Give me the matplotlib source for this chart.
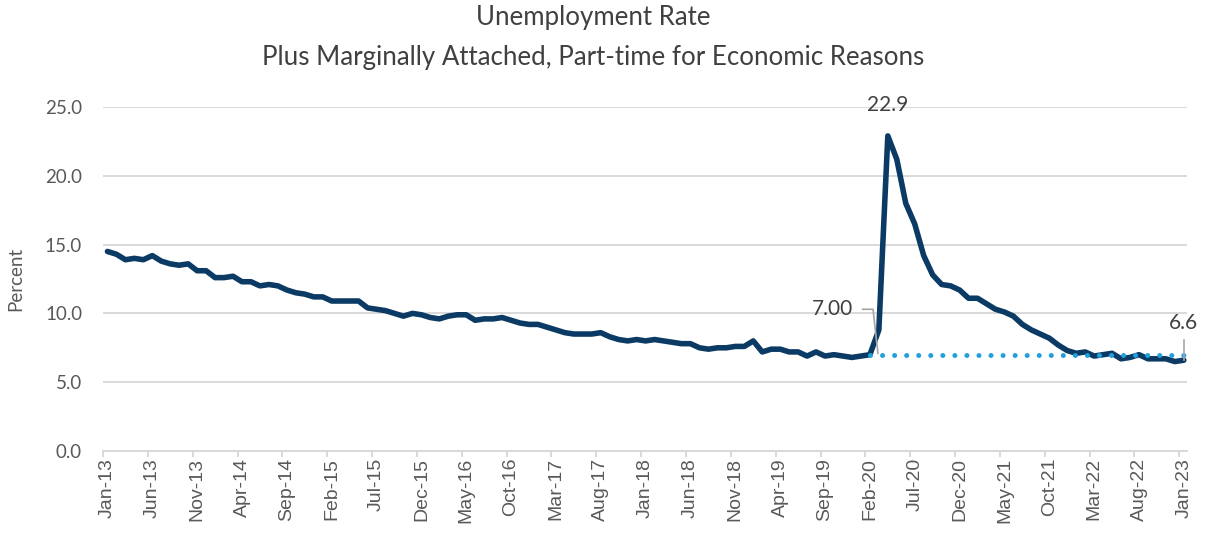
import matplotlib
matplotlib.use("Agg")
import matplotlib.pyplot as plt
import numpy as np

# Monthly U-6 rate, Jan 2013 - Jan 2023 (percent)
u6_2013 = [14.5, 14.3, 13.9, 14.0, 13.9, 14.2, 13.8, 13.6, 13.5, 13.6, 13.1, 13.1]
u6_2014 = [12.6, 12.6, 12.7, 12.3, 12.3, 12.0, 12.1, 12.0, 11.7, 11.5, 11.4, 11.2]
u6_2015 = [11.2, 10.9, 10.9, 10.9, 10.9, 10.4, 10.3, 10.2, 10.0, 9.8, 10.0, 9.9]
u6_2016 = [9.7, 9.6, 9.8, 9.9, 9.9, 9.5, 9.6, 9.6, 9.7, 9.5, 9.3, 9.2]
u6_2017 = [9.2, 9.0, 8.8, 8.6, 8.5, 8.5, 8.5, 8.6, 8.3, 8.1, 8.0, 8.1]
u6_2018 = [8.0, 8.1, 8.0, 7.9, 7.8, 7.8, 7.5, 7.4, 7.5, 7.5, 7.6, 7.6]
u6_2019 = [8.0, 7.2, 7.4, 7.4, 7.2, 7.2, 6.9, 7.2, 6.9, 7.0, 6.9, 6.8]
u6_2020 = [6.9, 7.0, 8.8, 22.9, 21.2, 18.0, 16.5, 14.2, 12.8, 12.1, 12.0, 11.7]
u6_2021 = [11.1, 11.1, 10.7, 10.3, 10.1, 9.8, 9.2, 8.8, 8.5, 8.2, 7.7, 7.3]
u6_2022 = [7.1, 7.2, 6.9, 7.0, 7.1, 6.7, 6.8, 7.0, 6.7, 6.7, 6.7, 6.5]
u6_2023 = [6.6]

u6 = (u6_2013 + u6_2014 + u6_2015 + u6_2016 + u6_2017 + u6_2018
      + u6_2019 + u6_2020 + u6_2021 + u6_2022 + u6_2023)

# Pre-pandemic reference level (Feb-20) carried forward
ref_level = 7.00
ref_start = "Feb-20"

tick_labels = ["Jan-13", "Jun-13", "Nov-13", "Apr-14", "Sep-14", "Feb-15", "Jul-15",
               "Dec-15", "May-16", "Oct-16", "Mar-17", "Aug-17", "Jan-18", "Jun-18",
               "Nov-18", "Apr-19", "Sep-19", "Feb-20", "Jul-20", "Dec-20", "May-21",
               "Oct-21", "Mar-22", "Aug-22", "Jan-23"]

months = ["Jan", "Feb", "Mar", "Apr", "May", "Jun", "Jul", "Aug", "Sep", "Oct", "Nov", "Dec"]
dates = [f"{months[i % 12]}-{13 + i // 12}" for i in range(len(u6))]
x = np.arange(len(u6))

NAVY = "#0b3a64"
LIGHT = "#23a0dc"
GRID = "#d9d9d9"
TEXT = "#404040"

fig = plt.figure(figsize=(12.07, 5.42), dpi=100)
ax = fig.add_axes([0.0853, 0.1679, 0.8981, 0.6347])

ax.plot(x, u6, color=NAVY, lw=4.0, solid_capstyle="round", solid_joinstyle="round", zorder=3)

i0 = dates.index(ref_start)
xr = x[i0:]
ax.plot(xr, [ref_level] * len(xr), color=LIGHT, lw=3.6,
        linestyle=(0, (0.01, 2.4)), dash_capstyle="round", zorder=4)

ax.set_xlim(-0.5, len(u6) - 1 + 0.35)
ax.set_ylim(0, 25)
ax.set_yticks(np.arange(0, 25.1, 5))
ax.set_yticklabels([f"{v:.1f}" for v in np.arange(0, 25.1, 5)],
                   fontfamily="Lato", fontsize=13.5, color="#595959")
ax.tick_params(axis="y", length=0, pad=15)
ax.yaxis.grid(True, color=GRID, lw=1.4)
ax.set_axisbelow(True)

tick_pos = [dates.index(t) for t in tick_labels]
ax.set_xticks(tick_pos)
ax.set_xticklabels(tick_labels, rotation=90, fontfamily="Liberation Sans",
                   fontsize=14, color="#595959")
ax.tick_params(axis="x", which="major", length=0, pad=5)
ax.set_xticks([p - 0.5 for p in tick_pos], minor=True)
ax.tick_params(axis="x", which="minor", length=4.5, width=1.4, color=GRID, direction="out")

for s in ["top", "right", "left"]:
    ax.spines[s].set_visible(False)
ax.spines["bottom"].set_color(GRID)
ax.spines["bottom"].set_linewidth(1.4)

ax.set_ylabel("Percent", fontfamily="Lato", fontsize=13.5, color="#595959", labelpad=15)

# Annotations
i_peak = int(np.argmax(u6))
ax.text(x[i_peak], u6[i_peak] + 2.25, f"{u6[i_peak]:.1f}", ha="center", va="center",
        fontfamily="Lato", fontsize=15, color=TEXT, clip_on=False)

ax.text(x[i0] - 1.9, 10.3, f"{ref_level:.2f}", ha="right", va="center",
        fontfamily="Lato", fontsize=15, color=TEXT)
ax.plot([x[i0] - 0.8, x[i0] + 0.35, x[i0] + 0.9], [10.3, 10.3, ref_level + 0.1],
        color="#a6a6a6", lw=1.2, zorder=5)

ax.text(x[-1], 9.3, f"{u6[-1]:.1f}", ha="center", va="center",
        fontfamily="Lato", fontsize=15, color=TEXT, clip_on=False)
ax.plot([x[-1], x[-1]], [8.1, u6[-1]], color="#a6a6a6", lw=1.2, zorder=5, clip_on=False)

fig.text(0.4913, 0.967, "Unemployment Rate", ha="center", va="center",
         fontfamily="Lato", fontsize=18.6, color=TEXT)
fig.text(0.4913, 0.893, "Plus Marginally Attached, Part-time for Economic Reasons",
         ha="center", va="center", fontfamily="Lato", fontsize=18.6, color=TEXT)

fig.savefig("out.png", dpi=100)
